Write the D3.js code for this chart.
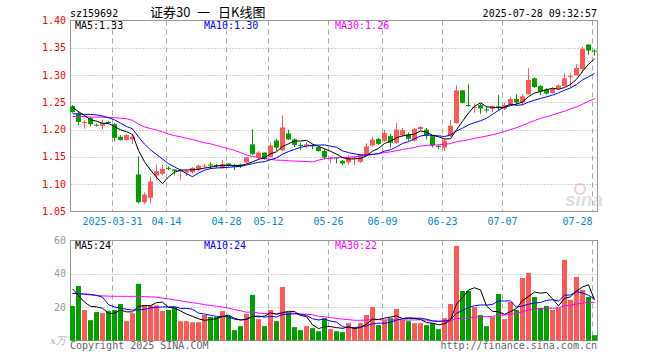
<!DOCTYPE html>
<html><head><meta charset="utf-8">
<script src="https://cdn.jsdelivr.net/npm/d3@7/dist/d3.min.js"></script>
<style>body{margin:0;background:#fff}svg{display:block}</style>
</head><body><svg id="c" width="660" height="360"></svg>
<script>
const dates = ["03-20","03-21","03-24","03-25","03-26","03-27","03-28","03-31",
"04-01","04-02","04-03","04-07","04-08","04-09","04-10","04-11","04-14","04-15","04-16","04-17","04-18","04-21","04-22","04-23","04-24","04-25","04-28","04-29","04-30",
"05-06","05-07","05-08","05-09","05-12","05-13","05-14","05-15","05-16","05-19","05-20","05-21","05-22","05-23","05-26","05-27","05-28","05-29","05-30",
"06-03","06-04","06-05","06-06","06-09","06-10","06-11","06-12","06-13","06-16","06-17","06-18","06-19","06-20","06-23","06-24","06-25","06-26","06-27","06-30",
"07-01","07-02","07-03","07-04","07-07","07-08","07-09","07-10","07-11","07-14","07-15","07-16","07-17","07-18","07-21","07-22","07-23","07-24","07-25","07-28"];

const open  = [1.243,1.229,1.212,1.221,1.209,1.207,1.214,1.210,1.187,1.181,1.182,1.118,1.067,1.075,1.116,1.119,1.130,1.127,1.124,1.121,1.122,1.127,1.133,1.136,1.135,1.129,1.138,1.134,1.136,
1.140,1.173,1.149,1.158,1.150,1.180,1.162,1.193,1.182,1.172,1.170,1.171,1.168,1.161,1.147,1.149,1.143,1.140,1.148,1.141,1.154,1.171,1.183,1.179,1.188,1.176,1.190,
1.191,1.180,1.201,1.200,1.188,1.170,1.167,1.188,1.212,1.272,1.245,1.241,1.245,1.237,1.238,1.243,1.238,1.245,1.256,1.250,1.265,1.294,1.280,1.274,1.267,1.275,1.280,1.297,1.300,1.311,1.356,1.345];
const high  = [1.245,1.234,1.217,1.223,1.211,1.218,1.216,1.212,1.190,1.192,1.191,1.151,1.085,1.114,1.136,1.136,1.133,1.127,1.125,1.127,1.131,1.136,1.137,1.140,1.137,1.144,1.138,1.137,1.138,
1.150,1.201,1.161,1.158,1.177,1.183,1.226,1.200,1.184,1.176,1.177,1.173,1.169,1.165,1.149,1.150,1.144,1.153,1.151,1.156,1.175,1.187,1.185,1.200,1.192,1.212,1.203,
1.195,1.203,1.206,1.203,1.190,1.173,1.183,1.218,1.281,1.273,1.283,1.248,1.248,1.242,1.244,1.264,1.249,1.260,1.265,1.265,1.313,1.296,1.282,1.276,1.277,1.283,1.303,1.303,1.320,1.352,1.356,1.348];
const low   = [1.231,1.208,1.202,1.206,1.206,1.200,1.210,1.179,1.180,1.180,1.174,1.065,1.064,1.065,1.107,1.116,1.126,1.116,1.108,1.115,1.119,1.124,1.130,1.128,1.130,1.128,1.132,1.126,1.130,
1.139,1.153,1.146,1.145,1.149,1.161,1.161,1.181,1.168,1.162,1.166,1.164,1.160,1.146,1.139,1.138,1.135,1.136,1.135,1.139,1.152,1.168,1.172,1.178,1.167,1.174,1.187,
1.179,1.178,1.199,1.182,1.167,1.164,1.161,1.187,1.211,1.248,1.242,1.231,1.229,1.231,1.232,1.236,1.236,1.244,1.244,1.244,1.264,1.276,1.263,1.264,1.266,1.274,1.279,1.277,1.299,1.304,1.337,1.336];
const close = [1.232,1.214,1.214,1.210,1.208,1.212,1.213,1.185,1.181,1.190,1.187,1.067,1.081,1.105,1.124,1.128,1.129,1.124,1.125,1.124,1.130,1.134,1.134,1.135,1.133,1.137,1.134,1.133,1.133,
1.149,1.155,1.158,1.146,1.171,1.167,1.204,1.182,1.172,1.171,1.173,1.170,1.161,1.149,1.149,1.147,1.138,1.149,1.149,1.154,1.169,1.182,1.174,1.194,1.176,1.200,1.199,
1.183,1.201,1.205,1.189,1.171,1.169,1.180,1.207,1.272,1.249,1.244,1.242,1.239,1.236,1.243,1.241,1.245,1.256,1.250,1.261,1.291,1.278,1.270,1.266,1.275,1.281,1.294,1.298,1.313,1.348,1.345,1.344];
const volume = [20.7,32.7,18.3,12.2,17,16.4,17.7,18.3,21.9,11.6,
16.4,34,21.1,21.1,21.1,17.7,18.3,19.9,11.6,11.6,
11,11,15.3,14.1,14.1,17.7,14.7,6.2,8.6,15.9,
27.3,12.8,8.6,18.3,11.6,32.1,17,8,6.2,8.6,
7.4,5.6,13.4,6.8,5.6,5,10.4,8,10.4,15.3,
20.1,9.2,12.2,13.4,18.9,12.2,11.6,10.4,10.4,9.2,
10.4,6.8,13.4,21.9,56.8,29.7,29.7,20.1,15.3,8.6,
14.1,27.9,12.8,23.1,18.3,37.5,40.5,26.1,19.5,20.7,
18.3,19.5,48.4,24.3,38.1,30.3,26.1,3.2];

const priceMa5Head  = [1.241,1.233,1.226,1.218];
const priceMa10Head = [1.229,1.229,1.228,1.228,1.227,1.225,1.222,1.218,1.212];
const priceMa30Head = [1.224,1.224,1.224,1.223,1.223,1.223,1.222,1.222,1.221,1.220,1.217,1.210,1.205,1.202,1.199,1.196,1.192,1.189,1.187,1.184,1.182,1.179,1.176,1.174,1.171,1.168,1.165,1.162,1.158];
const volMa5Head  = [31,27,23,20.5];
const volMa10Head = [28.3,28,27.9,27.7,27.1,26,21.5,20.1,19.5];
const volMa30Head = [28.3,28.1,27.8,27.3,27.0,26.8,26.6,26.5,26.5,26.5,26.5,26.4,26.3,26.2,26.0,25.4,25.0,24.4,23.8,23.2,22.7,22.2,21.5,21.0,20.6,20.1,19.4,18.6,17.9];

const tickDates  = ["03-31","04-14","04-28","05-12","05-26","06-09","06-23","07-07","07-28"];
const tickLabels = ["2025-03-31","04-14","04-28","05-12","05-26","06-09","06-23","07-07","07-28"];
const priceTicks = [1.05,1.10,1.15,1.20,1.25,1.30,1.35,1.40];
const volTicks = [20,40,60];
const titleParts = ["证券30", "一", "日K线图"];

const RED = "#ff5858", GREEN = "#00a000", GRID = "#aaa", BORDER = "#999";
const MONO = "'DejaVu Sans Mono', monospace";

function movingAvg(vals, n, head) {
  return vals.map((v, i) => i < n - 1 ? head[i] : d3.mean(vals.slice(i - n + 1, i + 1)));
}

const svg = d3.select("#c");
svg.append("rect").attr("width", 660).attr("height", 360).attr("fill", "#fff");

const L = 70.5, R = 597.5;
const x = d3.scaleBand().domain(d3.range(dates.length)).range([70, 598]).padding(0);
const yP = d3.scaleLinear().domain([1.05, 1.40]).range([211.5, 20.5]);
const yV = d3.scaleLinear().domain([0, 60]).range([340.5, 240.5]);
const bw = x.bandwidth() - 1;
const cx = i => x(i) + 2.5;

const tickIdx = tickDates.map(d => dates.indexOf(d));

function panel(top, bottom, hTicks, yScale) {
  const g = svg.append("g");
  g.selectAll("line.h").data(hTicks).join("line")
    .attr("x1", L).attr("x2", R)
    .attr("y1", d => Math.round(yScale(d)) + 0.5).attr("y2", d => Math.round(yScale(d)) + 0.5)
    .attr("stroke", GRID).attr("stroke-dasharray", "1,2");
  g.selectAll("line.v").data(tickIdx).join("line")
    .attr("x1", i => x(i) + 0.5).attr("x2", i => x(i) + 0.5)
    .attr("y1", top).attr("y2", bottom)
    .attr("stroke", GRID).attr("stroke-dasharray", "5,4");
  g.append("rect").attr("x", L).attr("y", top).attr("width", R - L).attr("height", bottom - top)
    .attr("fill", "none").attr("stroke", BORDER);
}
panel(20.5, 211.5, priceTicks.filter(t => t > 1.05 && t < 1.40), yP);
panel(240.5, 340.5, [20, 40], yV);

// watermark
const wm = svg.append("g").attr("opacity", 0.55);
wm.append("circle").attr("cx", 580).attr("cy", 189).attr("r", 5).attr("fill", "none").attr("stroke", "#f0a0a0").attr("stroke-width", 2);
wm.append("text").attr("x", 565).attr("y", 206).attr("font-family", "'Liberation Sans', Arial")
  .attr("font-style", "italic").attr("font-weight", "bold").attr("font-size", 19).attr("fill", "#c8c8c8").text("sina");

const color = i => close[i] >= open[i] ? RED : GREEN;
const idx = d3.range(dates.length);

// candles
const cg = svg.append("g");
cg.selectAll("line").data(idx).join("line")
  .attr("x1", cx).attr("x2", cx)
  .attr("y1", i => yP(high[i])).attr("y2", i => yP(low[i]))
  .attr("stroke", color).attr("stroke-width", 1);
cg.selectAll("rect").data(idx).join("rect")
  .attr("x", i => x(i)).attr("width", bw)
  .attr("y", i => yP(Math.max(open[i], close[i])))
  .attr("height", i => Math.max(1, Math.abs(yP(open[i]) - yP(close[i]))))
  .attr("fill", color);

// volume bars
svg.append("g").selectAll("rect").data(idx).join("rect")
  .attr("x", i => x(i)).attr("width", bw)
  .attr("y", i => yV(volume[i])).attr("height", i => yV(0) - yV(volume[i]))
  .attr("fill", color);

const pMa = [movingAvg(close, 5, priceMa5Head), movingAvg(close, 10, priceMa10Head), movingAvg(close, 30, priceMa30Head)];
const vMa = [movingAvg(volume, 5, volMa5Head), movingAvg(volume, 10, volMa10Head), movingAvg(volume, 30, volMa30Head)];
const maColors = ["#000", "#0000ff", "#ff00ff"];
const maNames = ["MA5", "MA10", "MA30"];

[2, 1, 0].forEach(k => {
  svg.append("path").datum(pMa[k]).attr("d", d3.line().x((d, i) => cx(i)).y(d => yP(d)))
    .attr("fill", "none").attr("stroke", maColors[k]).attr("stroke-width", 1);
  svg.append("path").datum(vMa[k]).attr("d", d3.line().x((d, i) => cx(i)).y(d => yV(d)))
    .attr("fill", "none").attr("stroke", maColors[k]).attr("stroke-width", 1);
});

const last = dates.length - 1;
const legX = [75, 204, 335];
const t = svg.append("g").attr("font-family", MONO).attr("font-size", 10);
maNames.forEach((n, k) => {
  t.append("text").attr("x", legX[k]).attr("y", 29).attr("fill", maColors[k]).text(n + ":" + pMa[k][last].toFixed(2));
  t.append("text").attr("x", legX[k]).attr("y", 249).attr("fill", maColors[k]).text(n + ":" + Math.floor(vMa[k][last]));
});

// axes labels
t.selectAll("text.py").data(priceTicks).join("text").attr("class", "py")
  .attr("x", 66).attr("y", d => yP(d) + 3.5).attr("text-anchor", "end").attr("fill", "#ff0000")
  .text(d => d.toFixed(2));
t.selectAll("text.vy").data(volTicks).join("text").attr("class", "vy")
  .attr("x", 66).attr("y", d => yV(d) + 3.5).attr("text-anchor", "end").attr("fill", "#999")
  .text(d => d);
t.append("text").attr("x", 66).attr("y", 344).attr("text-anchor", "end").attr("fill", "#aaa")
  .attr("font-family", "'DejaVu Serif', serif").attr("font-style", "italic").text("x万");
t.selectAll("text.xl").data(tickLabels).join("text").attr("class", "xl")
  .attr("x", (d, k) => x(tickIdx[k]) + 0.5)
  .attr("y", 225)
  .attr("text-anchor", (d, k) => k === tickLabels.length - 1 ? "end" : "middle")
  .attr("fill", "#0a86d6").text(d => d);

t.append("text").attr("x", 70).attr("y", 16.5).attr("fill", "#000").text("sz159692");
t.append("text").attr("x", 597).attr("y", 16.5).attr("text-anchor", "end").attr("fill", "#000").text("2025-07-28 09:32:57");
const titleX = [150, 197, 218];
const title = svg.append("text").attr("y", 16.5).attr("font-family", "'Noto Sans CJK SC', sans-serif")
  .attr("font-size", 13).attr("fill", "#000");
titleParts.forEach((p, k) => title.append("tspan").attr("x", titleX[k]).text(p + (k < titleParts.length - 1 ? " " : "")));
t.append("text").attr("x", 70).attr("y", 349).attr("fill", "#666").text("Copyright 2025 SINA.COM");
t.append("text").attr("x", 597).attr("y", 349).attr("text-anchor", "end").attr("fill", "#666").text("http://finance.sina.com.cn");
</script></body></html>
